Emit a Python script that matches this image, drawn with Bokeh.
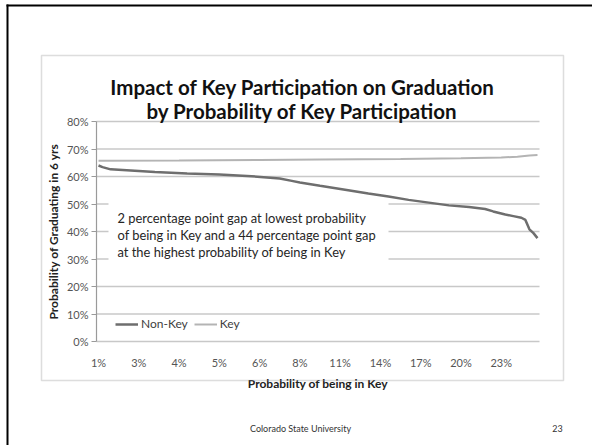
from bokeh.plotting import figure
from bokeh.models import (Range1d, FixedTicker, Label, BoxAnnotation, Legend, LegendItem)
from bokeh.embed import file_html
from bokeh.resources import INLINE

# ---------------- data ----------------
tick_idx = [0, 10, 20, 30, 40, 50, 60, 70, 80, 90, 100]
tick_labels = ["1%", "3%", "4%", "5%", "6%", "8%", "11%", "14%", "17%", "20%", "23%"]

nonkey_idx = [0, 1, 3, 8, 14, 22, 30, 38, 45, 48, 50, 55, 62, 67, 72, 77, 82, 87, 92, 96,
              98, 101, 103, 105, 106, 107, 108, 109]
nonkey_val = [64.0, 63.4, 62.6, 62.2, 61.6, 61.1, 60.7, 60.1, 59.3, 58.4, 57.8, 56.6, 55.0,
              53.8, 52.7, 51.5, 50.5, 49.5, 48.9, 48.2, 47.3, 46.2, 45.6, 45.0, 44.2, 40.8,
              39.4, 37.6]

key_idx = [0, 20, 40, 55, 75, 90, 100, 104, 107, 109]
key_val = [65.7, 65.8, 66.0, 66.2, 66.4, 66.6, 66.9, 67.2, 67.6, 67.8]

y_ticks = [0, 10, 20, 30, 40, 50, 60, 70, 80]
grid_ticks = [10, 20, 30, 40, 50, 60, 70, 80]
n_cat = 110

title_lines = ["Impact of Key Participation on Graduation",
               "by Probability of Key Participation"]
note_lines = ["2 percentage point gap at lowest probability",
              "of being in Key and a  44 percentage point gap",
              "at the highest probability of being in Key"]

FONT = "Lato"

# ---------------- layout (page pixels) ----------------
W, H = 592, 445
FL, FR, FT, FB = 96, 539, 121, 341   # plot area in page coords
X0, X1 = -0.5, n_cat - 0.5
Y0, Y1 = 0.0, 80.0


def dx(px):
    return X0 + (px - FL) * (X1 - X0) / (FR - FL)


def dy(py):
    return Y0 + (FB - py) * (Y1 - Y0) / (FB - FT)


p = figure(width=W, height=H, output_backend="svg", toolbar_location=None,
           x_range=Range1d(dx(0), dx(W)), y_range=Range1d(dy(H), dy(0)),
           min_border=0, min_border_left=0, min_border_right=0,
           min_border_top=0, min_border_bottom=0)
p.outline_line_color = None
p.background_fill_color = "white"
p.border_fill_color = "white"
p.xgrid.visible = False
p.ygrid.visible = False

# gridlines
gl = p.segment(x0=[X0] * len(grid_ticks), x1=[X1] * len(grid_ticks),
               y0=grid_ticks, y1=grid_ticks, line_color="#c8c8c8", line_width=1.5)
gl.level = "underlay"

# y axis
ya = p.yaxis[0]
ya.fixed_location = X0
ya.bounds = (Y0, Y1)
ya.ticker = FixedTicker(ticks=y_ticks)
ya.major_label_overrides = {t: f"{t}%" for t in y_ticks}
ya.axis_line_color = "#9a9a9a"
ya.axis_line_width = 1.2
ya.major_tick_line_color = "#9a9a9a"
ya.major_tick_out = 5
ya.major_tick_in = 0
ya.minor_tick_line_color = None
ya.major_label_standoff = 3
ya.major_label_text_font = FONT
ya.major_label_text_font_size = "11px"
ya.major_label_text_color = "#555555"
ya.axis_label = "Probability of Graduating in 6 yrs"
ya.axis_label_text_font = FONT
ya.axis_label_text_font_style = "bold"
ya.axis_label_text_font_size = "12px"
ya.axis_label_text_color = "#222222"
ya.axis_label_standoff = 3

# x axis
xa = p.xaxis[0]
xa.fixed_location = Y0
xa.bounds = (X0, X1)
xa.ticker = FixedTicker(ticks=tick_idx)
xa.major_label_overrides = dict(zip(tick_idx, tick_labels))
xa.axis_line_color = "#c8c8c8"
xa.axis_line_width = 1.5
xa.major_tick_line_color = None
xa.minor_tick_line_color = None
xa.major_label_standoff = 8
xa.major_label_text_font = FONT
xa.major_label_text_font_size = "11px"
xa.major_label_text_color = "#555555"
xa.axis_label = "Probability of being in Key"
xa.axis_label_text_font = FONT
xa.axis_label_text_font_style = "bold"
xa.axis_label_text_font_size = "12px"
xa.axis_label_text_color = "#222222"
xa.axis_label_standoff = 4

# series
r_nk = p.line(nonkey_idx, nonkey_val, line_color="#6e6e6e", line_width=2.5)
r_k = p.line(key_idx, key_val, line_color="#b4b4b4", line_width=2)
r_nk.level = "overlay"
r_k.level = "overlay"

legend = Legend(items=[LegendItem(label="Non-Key", renderers=[r_nk]),
                       LegendItem(label="Key", renderers=[r_k])],
                orientation="horizontal", location=(115, H - 331),
                padding=0, margin=0, spacing=6, glyph_width=23, glyph_height=14,
                label_height=14, label_standoff=3,
                label_text_font=FONT, label_text_font_size="12px",
                label_text_color="#404040",
                border_line_color=None, background_fill_alpha=0)
p.add_layout(legend, "center")

# annotation box (hides gridlines)
p.add_layout(BoxAnnotation(left=dx(108), right=dx(388), top=dy(190), bottom=dy(268),
                           fill_color="white", fill_alpha=1, line_color=None))
for t, yy in zip(note_lines, [217, 234, 251]):
    p.add_layout(Label(x=dx(117), y=dy(yy), text=t, text_font=FONT,
                       text_font_size="12.9px", text_color="#262626",
                       text_baseline="middle", text_align="left"))

# chart box
p.add_layout(BoxAnnotation(left=dx(41), right=dx(563), top=dy(55), bottom=dy(380),
                           fill_alpha=0, line_color="#8f8f8f", line_width=1.5))

# title
for t, yy in zip(title_lines, [86, 110]):
    p.add_layout(Label(x=dx(302), y=dy(yy), text=t, text_font=FONT,
                       text_font_style="bold", text_font_size="20.5px",
                       text_color="#111111", text_align="center",
                       text_baseline="alphabetic"))

# slide border (top and left)
p.add_layout(BoxAnnotation(left=dx(6), right=dx(8), top=dy(4), bottom=dy(H),
                           fill_color="black", fill_alpha=1, line_color=None))
p.add_layout(BoxAnnotation(left=dx(6), right=dx(W), top=dy(4), bottom=dy(6),
                           fill_color="black", fill_alpha=1, line_color=None))

# footer
p.add_layout(Label(x=dx(300), y=dy(428), text="Colorado State University", text_font=FONT,
                   text_font_size="9px", text_color="#333333", text_align="center",
                   text_baseline="middle"))
p.add_layout(Label(x=dx(557), y=dy(428), text="23", text_font=FONT,
                   text_font_size="9px", text_color="#333333", text_align="center",
                   text_baseline="middle"))

open("out.html", "w").write(file_html(p, INLINE))
